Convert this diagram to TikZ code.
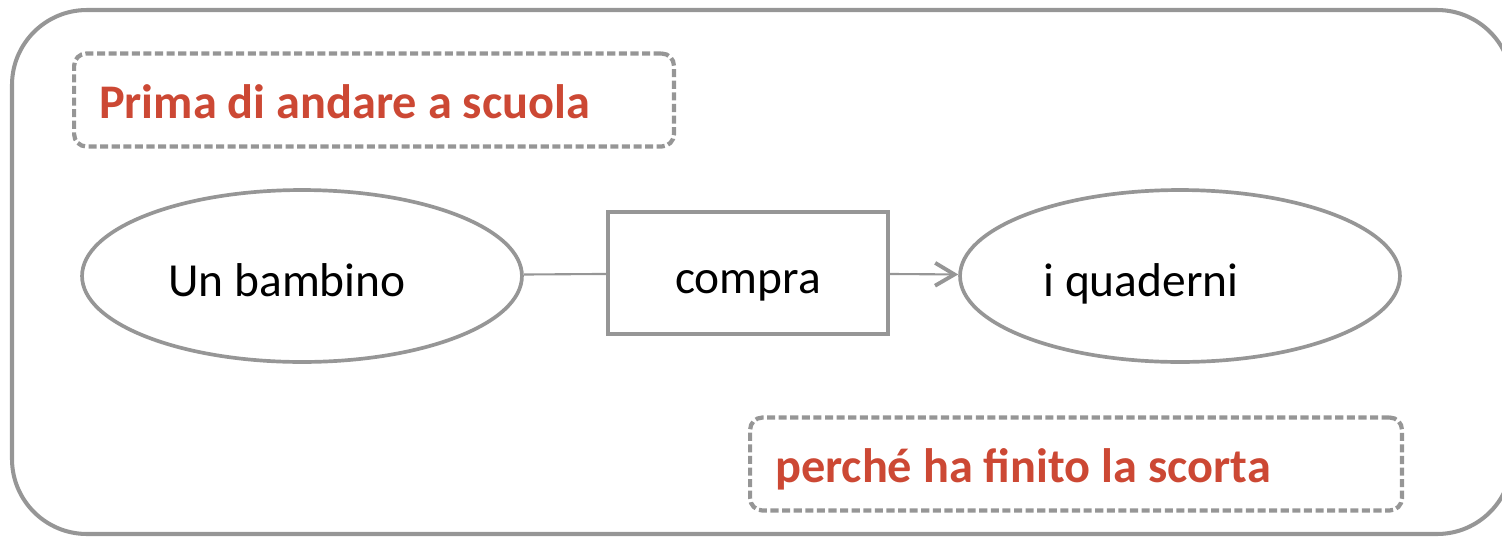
\documentclass[tikz,border=0pt]{standalone}
\usepackage{fontspec}
\setmainfont{Carlito}
\usepackage{tikz}
\usetikzlibrary{arrows.meta}
\usetikzlibrary{shapes.geometric}
\usetikzlibrary{positioning}
\definecolor{boxgray}{RGB}{150,150,150}
\definecolor{notered}{RGB}{204,72,52}
\tikzset{frame/.style = {draw = boxgray, line width = 2.3pt, rounded corners = 1.5cm}}
\tikzset{entity/.style = {draw = boxgray, ellipse, line width = 2.1pt,
                          minimum width = 8.8cm, minimum height = 3.44cm,
                          text height = 24.5pt, text depth = 1.5pt,
                          font = \fontsize{27}{32}\selectfont}}
\tikzset{relation/.style = {draw = boxgray, rectangle, line width = 2.2pt,
                            minimum width = 5.6cm, minimum height = 2.44cm,
                            text height = 24.5pt, text depth = 1.5pt,
                            font = \fontsize{27}{32}\selectfont}}
\tikzset{note/.style = {draw = boxgray, rectangle, line width = 2.4pt,
                        dash pattern = on 4.6pt off 2pt, rounded corners = 7pt,
                        text = notered, anchor = west, inner xsep = 0.5cm,
                        text height = 21pt, text depth = 0pt,
                        minimum height = 1.86cm, align = flush left,
                        font = \fontsize{27.5}{32}\selectfont\bfseries}}
\tikzset{link/.style = {draw = boxgray, line width = 1.2pt}}

\begin{document}
\begin{tikzpicture}[x = 0.02cm, y = -0.02cm]
      \useasboundingbox (0, 0) rectangle (1502, 538);
      \draw [frame] (12, 10) rectangle (1512, 534);

      \node [note, minimum width = 12cm, text width = 11cm] (before) at (72, 100)
            {Prima di andare a scuola};
      \node [note, minimum width = 13.04cm, text width = 12.04cm] (reason) at (748, 464)
            {perché ha finito la scorta};

      \node [entity] (child) at (302, 276) {Un bambino\hspace{0.6cm}\mbox{}};
      \node [relation] (buys) at (748, 273) {compra};
      \node [entity] (books) at (1180, 276) {i quaderni\hspace{1.56cm}\mbox{}};

      \draw [link] (child) -- (buys);
      \draw [link, -{Straight Barb[length = 11pt, width = 13pt, line width = 2.2pt]}] (buys) -- (books);
    \end{tikzpicture}
\end{document}
